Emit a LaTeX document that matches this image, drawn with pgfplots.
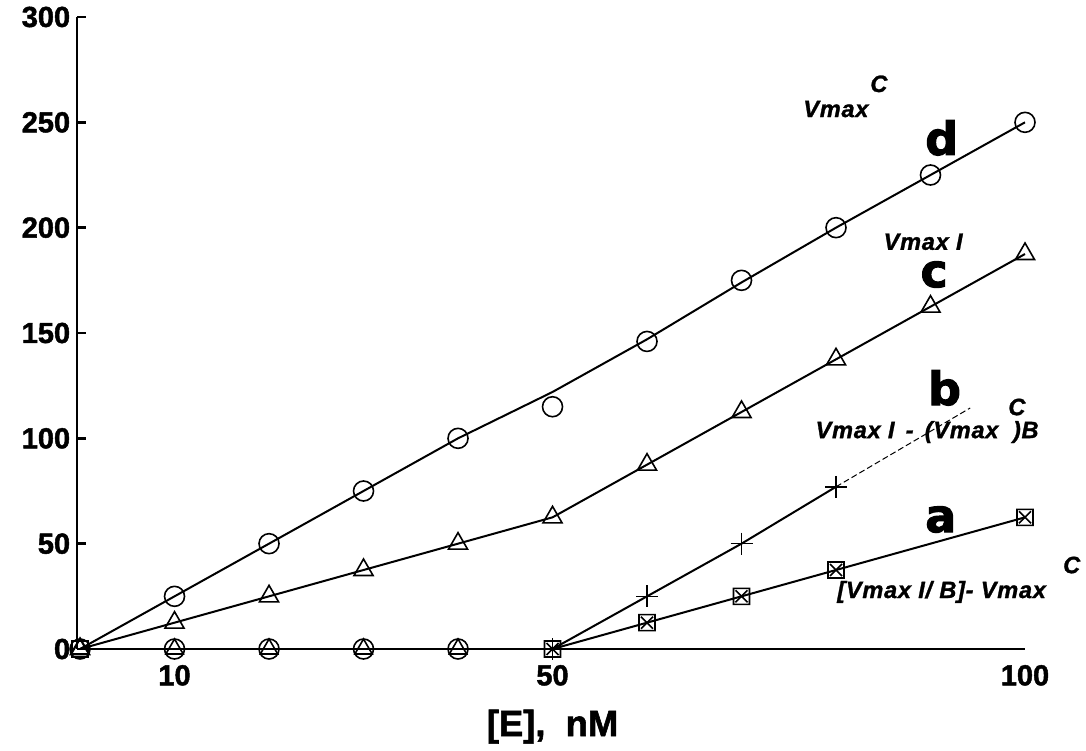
\documentclass[border=0pt]{standalone}
\usepackage{fontspec}
\setmainfont{Liberation Sans}
\newfontfamily\blackfont{Liberation Sans}[BoldFeatures={FakeBold=1.6}]
\newfontfamily\annotfont{Liberation Sans}[BoldItalicFeatures={FakeBold=1.2}, LetterSpace=3]
\newfontfamily\heavyfont{DejaVu Sans}[BoldFeatures={FakeBold=2.2}]
\usepackage{pgfplots}
\pgfplotsset{compat=1.18}

% square with a diagonal cross inside
\pgfdeclareplotmark{boxx}{%
  \pgfpathrectangle{\pgfpoint{-\pgfplotmarksize}{-\pgfplotmarksize}}%
    {\pgfpoint{2\pgfplotmarksize}{2\pgfplotmarksize}}%
  \pgfpathmoveto{\pgfpoint{-0.75\pgfplotmarksize}{-0.75\pgfplotmarksize}}%
  \pgfpathlineto{\pgfpoint{0.75\pgfplotmarksize}{0.75\pgfplotmarksize}}%
  \pgfpathmoveto{\pgfpoint{-0.75\pgfplotmarksize}{0.75\pgfplotmarksize}}%
  \pgfpathlineto{\pgfpoint{0.75\pgfplotmarksize}{-0.75\pgfplotmarksize}}%
  \pgfusepathqstroke}

\newcommand\annot{\annotfont\fontsize{11.8}{13}\selectfont\bfseries\itshape}
\newcommand\curve{\heavyfont\bfseries\fontsize{23}{25}\selectfont}

\begin{document}
\begin{tikzpicture}
\useasboundingbox (-38.6pt,-50.5pt) rectangle (504.4pt,324.5pt);
\begin{axis}[
  at={(0,0)}, anchor=south west,
  scale only axis, width=473.9pt, height=316pt,
  xmin=-0.3, xmax=100, ymin=0, ymax=300,
  axis x line*=bottom, axis y line*=left,
  axis line style={line width=1.2pt, black},
  xtick={10,50,100}, ytick={0,50,...,300},
  xtick style={draw=none},
  ytick align=inside,
  major tick length=4.5pt,
  tick style={line width=1.2pt, black},
  tick label style={font=\blackfont\fontsize{14.5}{16}\selectfont\bfseries},
  /pgf/number format/assume math mode=true,
  xticklabel style={yshift=-4.5pt},
  clip=false,
  every axis plot/.append style={black, mark options={solid, line width=0.8pt}},
]
% zero response below 50 nM
\addplot[only marks, mark=o, mark size=5pt] coordinates {(0,0) (10,0) (20,0) (30,0) (40,0)};
\addplot[only marks, mark=triangle, mark size=5pt] coordinates {(0,0) (10,0) (20,0) (30,0) (40,0)};
\addplot[only marks, mark=square, mark size=4pt] coordinates {(0,0)};

% d: Vmax^C
\addplot[line width=1pt] coordinates {
  (0,0) (10,25) (20,50) (30,75) (40,100) (50,122) (60,147) (70,174) (80,200) (90,225) (100,250)};
\addplot[only marks, mark=o, mark size=5pt] coordinates {
  (10,25) (20,50) (30,75) (40,100) (50,115) (60,146) (70,175) (80,200) (90,225) (100,250)};

% c: Vmax I
\addplot[line width=1pt, mark=triangle, mark size=5.5pt] coordinates {
  (0,0) (10,12.5) (20,25) (30,37.5) (40,50) (50,62.5) (60,87.5) (70,112.5) (80,137.5) (90,162.5) (100,187.5)};

% b: Vmax I - (Vmax^C) B
\addplot[line width=1pt, mark=+, mark size=5.5pt] coordinates {
  (50,0) (60,25) (70,50) (80,77)};
\addplot[line width=0.5pt, dash pattern=on 3pt off 1.5pt] coordinates {(80,77) (94.2,114.4)};

% a: [Vmax I / B] - Vmax^C
\addplot[line width=1pt, mark=boxx, mark size=4pt] coordinates {
  (50,0) (60,12.5) (70,25) (80,37.5) (100,62.5)};

% curve labels
\node[anchor=base west, inner sep=0] at (axis cs:89.4,234.5) {\curve d};
\node[anchor=base west, inner sep=0] at (axis cs:88.9,171.8) {\curve c};
\node[anchor=base west, inner sep=0] at (axis cs:89.7,115.8) {\curve b};
\node[anchor=base west, inner sep=0] at (axis cs:89.4,55.5) {\curve a};

\node[anchor=base west, inner sep=0] at (axis cs:76.5,252.5) {\annot Vmax};
\node[anchor=base west, inner sep=0] at (axis cs:83.6,264.4) {\annot C};
\node[anchor=base west, inner sep=0] at (axis cs:85,189.5) {\annot Vmax I};
\node[anchor=base west, inner sep=0] at (axis cs:77.8,100.1) {\annot Vmax I\, -\, (Vmax\ \ )B};
\node[anchor=base west, inner sep=0] at (axis cs:98.2,111) {\annot C};
\node[anchor=base west, inner sep=0] at (axis cs:80.1,24.2) {\annot [Vmax I/\ B]-\ Vmax};
\node[anchor=base west, inner sep=0] at (axis cs:104,36) {\annot C};

% axis title
\node[anchor=base, inner sep=0, yshift=-43.5pt] at (axis cs:50,0)
  {\blackfont\fontsize{18.2}{20}\selectfont\bfseries [E],\ \ nM};
\end{axis}
\end{tikzpicture}
\end{document}
